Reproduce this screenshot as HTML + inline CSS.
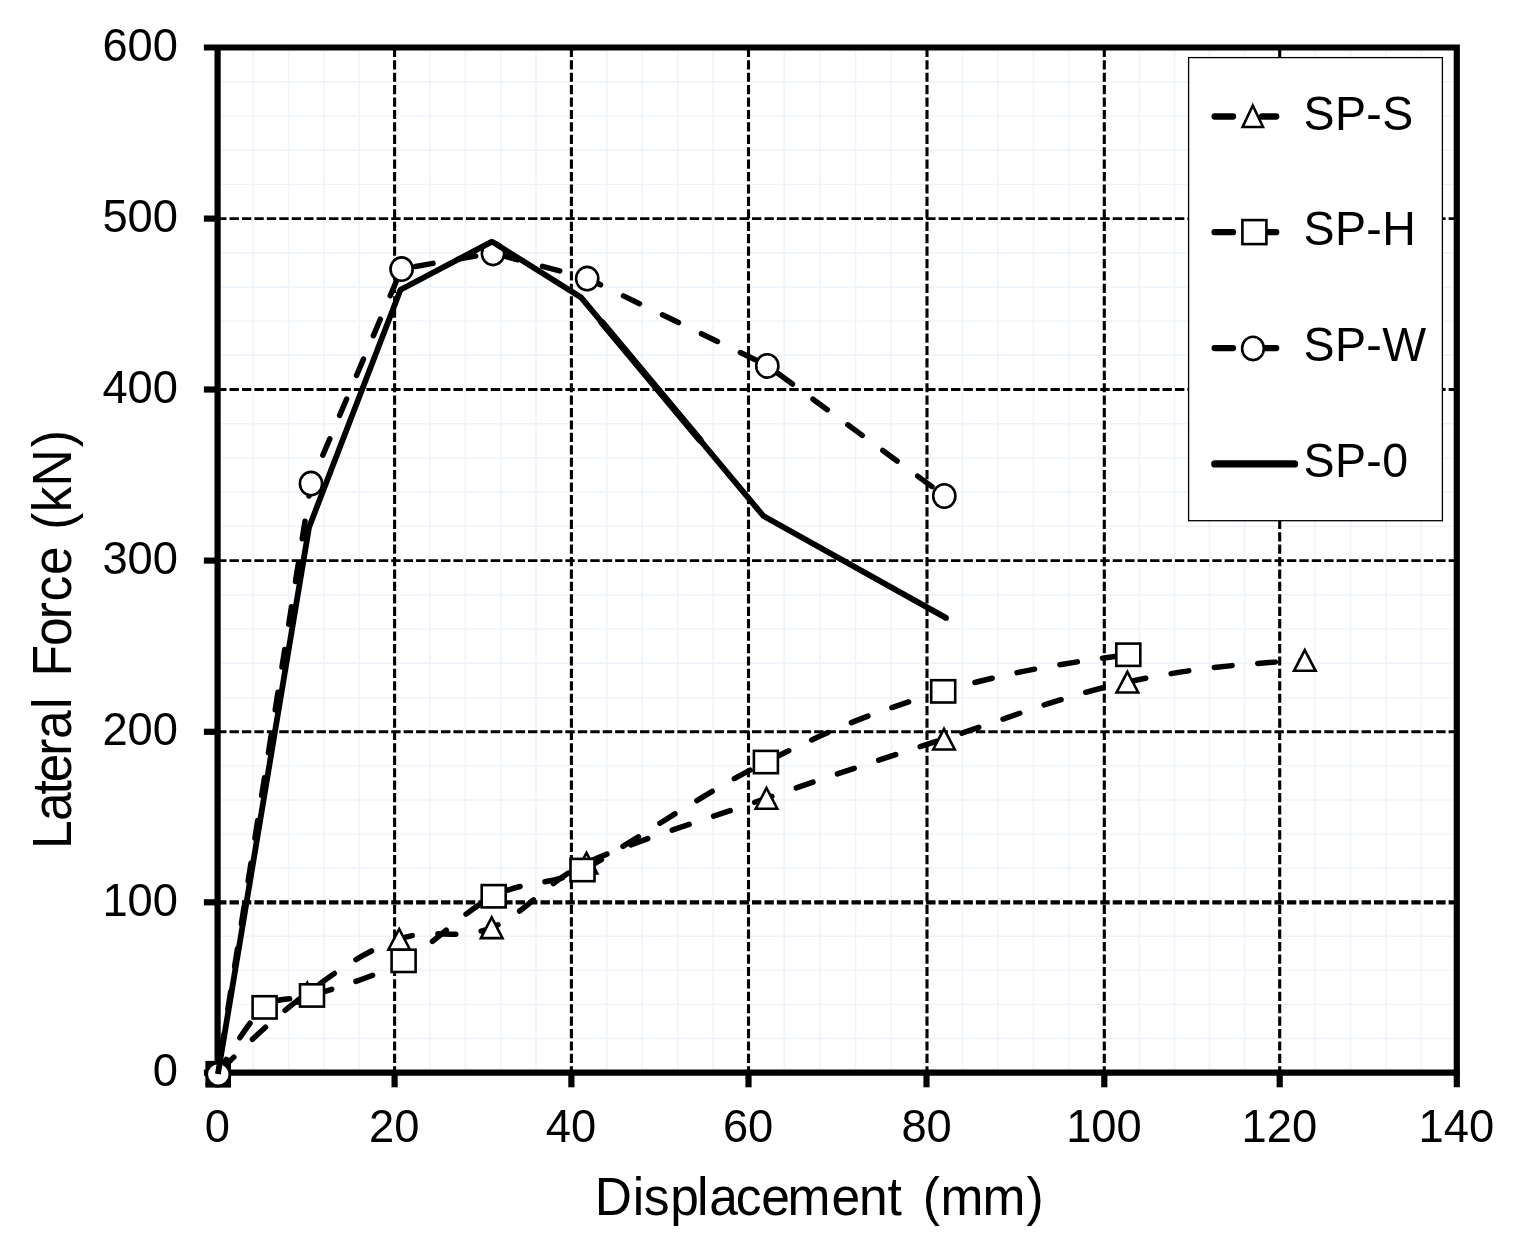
<!DOCTYPE html>
<html lang="en">
<head>
<meta charset="utf-8">
<title>Lateral Force vs Displacement</title>
<style>
html,body{margin:0;padding:0;background:#fff;}
body{width:1513px;height:1248px;overflow:hidden;}
svg{display:block;}
text{font-family:"Liberation Sans",sans-serif;fill:#000;}
</style>
</head>
<body>
<svg width="1513" height="1248" viewBox="0 0 1513 1248">
<rect width="1513" height="1248" fill="#ffffff"/>
<g stroke="#edf3f9" stroke-width="1.4" fill="none">
<line x1="253.2" y1="47.5" x2="253.2" y2="1072.6"/>
<line x1="288.5" y1="47.5" x2="288.5" y2="1072.6"/>
<line x1="323.9" y1="47.5" x2="323.9" y2="1072.6"/>
<line x1="359.2" y1="47.5" x2="359.2" y2="1072.6"/>
<line x1="430.0" y1="47.5" x2="430.0" y2="1072.6"/>
<line x1="465.3" y1="47.5" x2="465.3" y2="1072.6"/>
<line x1="500.7" y1="47.5" x2="500.7" y2="1072.6"/>
<line x1="536.0" y1="47.5" x2="536.0" y2="1072.6"/>
<line x1="606.8" y1="47.5" x2="606.8" y2="1072.6"/>
<line x1="642.2" y1="47.5" x2="642.2" y2="1072.6"/>
<line x1="677.7" y1="47.5" x2="677.7" y2="1072.6"/>
<line x1="713.1" y1="47.5" x2="713.1" y2="1072.6"/>
<line x1="784.2" y1="47.5" x2="784.2" y2="1072.6"/>
<line x1="819.9" y1="47.5" x2="819.9" y2="1072.6"/>
<line x1="855.6" y1="47.5" x2="855.6" y2="1072.6"/>
<line x1="891.3" y1="47.5" x2="891.3" y2="1072.6"/>
<line x1="962.5" y1="47.5" x2="962.5" y2="1072.6"/>
<line x1="997.9" y1="47.5" x2="997.9" y2="1072.6"/>
<line x1="1033.4" y1="47.5" x2="1033.4" y2="1072.6"/>
<line x1="1068.8" y1="47.5" x2="1068.8" y2="1072.6"/>
<line x1="1139.4" y1="47.5" x2="1139.4" y2="1072.6"/>
<line x1="1174.5" y1="47.5" x2="1174.5" y2="1072.6"/>
<line x1="1209.5" y1="47.5" x2="1209.5" y2="1072.6"/>
<line x1="1244.6" y1="47.5" x2="1244.6" y2="1072.6"/>
<line x1="1315.1" y1="47.5" x2="1315.1" y2="1072.6"/>
<line x1="1350.5" y1="47.5" x2="1350.5" y2="1072.6"/>
<line x1="1385.9" y1="47.5" x2="1385.9" y2="1072.6"/>
<line x1="1421.3" y1="47.5" x2="1421.3" y2="1072.6"/>
<line x1="217.6" y1="1038.5" x2="1456.8" y2="1038.5"/>
<line x1="217.6" y1="1004.4" x2="1456.8" y2="1004.4"/>
<line x1="217.6" y1="970.4" x2="1456.8" y2="970.4"/>
<line x1="217.6" y1="936.3" x2="1456.8" y2="936.3"/>
<line x1="217.6" y1="868.2" x2="1456.8" y2="868.2"/>
<line x1="217.6" y1="834.1" x2="1456.8" y2="834.1"/>
<line x1="217.6" y1="800.0" x2="1456.8" y2="800.0"/>
<line x1="217.6" y1="765.9" x2="1456.8" y2="765.9"/>
<line x1="217.6" y1="697.6" x2="1456.8" y2="697.6"/>
<line x1="217.6" y1="663.3" x2="1456.8" y2="663.3"/>
<line x1="217.6" y1="629.1" x2="1456.8" y2="629.1"/>
<line x1="217.6" y1="594.8" x2="1456.8" y2="594.8"/>
<line x1="217.6" y1="526.4" x2="1456.8" y2="526.4"/>
<line x1="217.6" y1="492.2" x2="1456.8" y2="492.2"/>
<line x1="217.6" y1="457.9" x2="1456.8" y2="457.9"/>
<line x1="217.6" y1="423.7" x2="1456.8" y2="423.7"/>
<line x1="217.6" y1="355.3" x2="1456.8" y2="355.3"/>
<line x1="217.6" y1="321.1" x2="1456.8" y2="321.1"/>
<line x1="217.6" y1="287.0" x2="1456.8" y2="287.0"/>
<line x1="217.6" y1="252.8" x2="1456.8" y2="252.8"/>
<line x1="217.6" y1="184.4" x2="1456.8" y2="184.4"/>
<line x1="217.6" y1="150.2" x2="1456.8" y2="150.2"/>
<line x1="217.6" y1="115.9" x2="1456.8" y2="115.9"/>
<line x1="217.6" y1="81.7" x2="1456.8" y2="81.7"/>
</g>
<g stroke="#000" fill="none">
<line x1="394.6" y1="47.8" x2="394.6" y2="1072.6" stroke-width="3.1" stroke-dasharray="9.2 3.22"/>
<line x1="571.4" y1="47.8" x2="571.4" y2="1072.6" stroke-width="3.1" stroke-dasharray="9.2 3.22"/>
<line x1="748.5" y1="47.8" x2="748.5" y2="1072.6" stroke-width="3.1" stroke-dasharray="9.2 3.22"/>
<line x1="927.0" y1="47.8" x2="927.0" y2="1072.6" stroke-width="3.1" stroke-dasharray="9.2 3.22"/>
<line x1="1104.3" y1="47.8" x2="1104.3" y2="1072.6" stroke-width="3.1" stroke-dasharray="9.2 3.22"/>
<line x1="1279.7" y1="47.8" x2="1279.7" y2="1072.6" stroke-width="3.1" stroke-dasharray="9.2 3.22"/>
<line x1="217.06" y1="902.3" x2="1456.8" y2="902.3" stroke-width="4.3" stroke-dasharray="9.4 3.04"/>
<line x1="217.06" y1="731.8" x2="1456.8" y2="731.8" stroke-width="2.9" stroke-dasharray="9.4 3.04"/>
<line x1="217.06" y1="560.6" x2="1456.8" y2="560.6" stroke-width="2.9" stroke-dasharray="9.4 3.04"/>
<line x1="217.06" y1="389.5" x2="1456.8" y2="389.5" stroke-width="2.9" stroke-dasharray="9.4 3.04"/>
<line x1="217.06" y1="218.6" x2="1456.8" y2="218.6" stroke-width="2.9" stroke-dasharray="9.4 3.04"/>
</g>
<g stroke="#000" stroke-width="6.2" fill="none">
<path d="M203.9 47.5 H1456.8 V1087.3"/>
<path d="M217.6 47.5 V1087.3"/>
<path d="M203.9 1072.6 H1459.8999999999999"/>
<line x1="394.6" y1="1072.6" x2="394.6" y2="1087.3"/>
<line x1="571.4" y1="1072.6" x2="571.4" y2="1087.3"/>
<line x1="748.5" y1="1072.6" x2="748.5" y2="1087.3"/>
<line x1="926.5" y1="1072.6" x2="926.5" y2="1087.3"/>
<line x1="1104.3" y1="1072.6" x2="1104.3" y2="1087.3"/>
<line x1="1279.7" y1="1072.6" x2="1279.7" y2="1087.3"/>
<line x1="203.9" y1="902.3" x2="217.6" y2="902.3"/>
<line x1="203.9" y1="731.8" x2="217.6" y2="731.8"/>
<line x1="203.9" y1="560.6" x2="217.6" y2="560.6"/>
<line x1="203.9" y1="389.5" x2="217.6" y2="389.5"/>
<line x1="203.9" y1="218.6" x2="217.6" y2="218.6"/>
</g>
<path d="M217.8 1073.0 C245.4 1045.6 273.0 1018.3 307.3 993.0 C341.6 967.7 364.1 951.7 399.2 939.2 C434.3 926.7 457.2 941.7 491.7 927.6 C526.2 913.5 545.0 882.5 586.5 863.0 C628.0 843.5 695.8 822.7 766.5 798.2 C837.2 773.7 872.8 761.9 944.0 739.0 C1015.2 716.1 1057.6 697.2 1127.4 682.0 C1197.2 666.8 1251.0 663.5 1304.8 660.3" stroke="#000" stroke-width="5.5" stroke-linecap="round" stroke-linejoin="round" stroke-dasharray="17.8 25.8" stroke-dashoffset="-4.8" fill="none"/>
<g fill="#fff" stroke="#000" stroke-width="2.6" stroke-linejoin="miter">
<polygon points="217.8,1062.8 228.6,1083.5 207.0,1083.5"/>
<polygon points="307.3,982.8 318.1,1003.5 296.5,1003.5"/>
<polygon points="399.2,929.0 410.0,949.7 388.4,949.7"/>
<polygon points="491.7,917.4 502.5,938.1 480.9,938.1"/>
<polygon points="586.5,852.8 597.3,873.5 575.7,873.5"/>
<polygon points="766.5,788.0 777.3,808.7 755.7,808.7"/>
<polygon points="944.0,728.8 954.8,749.5 933.2,749.5"/>
<polygon points="1127.4,671.8 1138.2,692.5 1116.6,692.5"/>
<polygon points="1304.8,650.1 1315.6,670.8 1294.0,670.8"/>
</g>
<path d="M217.8 1073.9 C233.7 1046.9 249.6 1019.8 264.6 1007.3" stroke="#000" stroke-width="5.5" stroke-linecap="round" stroke-linejoin="round" stroke-dasharray="17.8 25.5" stroke-dashoffset="1.1" fill="none"/>
<path d="M264.6 1007.3 C279.6 994.8 293.5 1001.6 312.0 995.4 C330.5 989.2 369.2 979.6 403.6 960.8 C438.0 942.0 460.7 913.0 493.7 896.2 C526.7 879.4 549.3 886.4 582.5 870.0 C615.7 853.6 697.5 795.9 765.9 762.0 C834.3 728.1 870.8 712.7 943.2 691.3 C1015.6 669.9 1071.9 662.3 1128.3 654.7" stroke="#000" stroke-width="5.5" stroke-linecap="round" stroke-linejoin="round" stroke-dasharray="17.8 25.5" stroke-dashoffset="-9.28" fill="none"/>
<g fill="#fff" stroke="#000" stroke-width="2.6">
<rect x="207.6" y="1063.1" width="21.2" height="22.3" stroke-width="4.4"/>
<rect x="252.6" y="996.2" width="24.0" height="22.3"/>
<rect x="300.0" y="984.3" width="24.0" height="22.3"/>
<rect x="391.6" y="949.7" width="24.0" height="22.3"/>
<rect x="481.7" y="885.1" width="24.0" height="22.3"/>
<rect x="570.5" y="858.9" width="24.0" height="22.3"/>
<rect x="753.9" y="750.9" width="24.0" height="22.3"/>
<rect x="931.2" y="680.2" width="24.0" height="22.3"/>
<rect x="1116.3" y="643.6" width="24.0" height="22.3"/>
</g>
<polyline points="217.8,1073.0 311.0,483.3 401.6,268.8 493.0,253.1 587.2,278.3 767.3,365.6 944.3,495.7" stroke="#000" stroke-width="5.5" stroke-linecap="round" stroke-linejoin="round" stroke-dasharray="17.8 25.5" stroke-dashoffset="22.05" fill="none"/>
<g fill="#fff" stroke="#000" stroke-width="2.6">
<circle cx="218.3" cy="1074.4" r="11.6" stroke-width="2.8"/>
<ellipse cx="311.0" cy="483.6" rx="11.1" ry="11.7"/>
<ellipse cx="401.6" cy="269.1" rx="11.1" ry="11.7"/>
<ellipse cx="493.0" cy="253.4" rx="11.1" ry="11.7"/>
<ellipse cx="587.2" cy="278.6" rx="11.1" ry="11.7"/>
<ellipse cx="767.3" cy="365.9" rx="11.1" ry="11.7"/>
<ellipse cx="944.3" cy="496.0" rx="11.1" ry="11.7"/>
</g>
<polyline points="217.9,1073.9 309.0,527.5 400.5,289.7 492.0,241.6 580.8,297.2 763.4,516.0 946.0,617.9" stroke="#000" stroke-width="5.8" stroke-linecap="butt" stroke-linejoin="round" fill="none"/>
<line x1="602" y1="322.6" x2="700" y2="440.0" stroke="#000" stroke-width="7.0" stroke-linecap="round"/>
<circle cx="946.0" cy="617.9" r="2.9" fill="#000"/>
<rect x="1188.6" y="57.6" width="253.8" height="463.1" fill="#fff" stroke="#000" stroke-width="1.3"/>
<path d="M1214.6 116.5 H1233 M1262 116.5 H1276.2" stroke="#000" stroke-width="6.3" stroke-linecap="round" fill="none"/>
<polygon points="1252.8,105.5 1263,127 1242.6,127" fill="#fff" stroke="#000" stroke-width="2.6"/>
<path d="M1214.6 232.2 H1233 M1262 232.2 H1276.2" stroke="#000" stroke-width="6.3" stroke-linecap="round" fill="none"/>
<rect x="1242.4" y="220.1" width="24" height="24" fill="#fff" stroke="#000" stroke-width="2.6"/>
<path d="M1214.6 348.1 H1233 M1262 348.1 H1276.2" stroke="#000" stroke-width="6.3" stroke-linecap="round" fill="none"/>
<ellipse cx="1253.0" cy="348.4" rx="10.9" ry="11.7" fill="#fff" stroke="#000" stroke-width="2.6"/>
<path d="M1214.8 463.9 H1294.5" stroke="#000" stroke-width="7.4" stroke-linecap="round" fill="none"/>
<g font-size="46.5px">
<text transform="translate(1303.5 129.5) scale(1 1.04)" letter-spacing="0.4">SP-S</text>
<text transform="translate(1303.5 245.4) scale(1 1.04)" letter-spacing="0.4">SP-H</text>
<text transform="translate(1303.5 360.8) scale(1 1.04)" letter-spacing="0.4">SP-W</text>
<text transform="translate(1303.5 476.8) scale(1 1.04)" letter-spacing="0.4">SP-0</text>
</g>
<g font-size="45.3px">
<text transform="translate(217.4 1141.6) scale(1 1.03)" text-anchor="middle">0</text>
<text transform="translate(394.2 1141.6) scale(1 1.03)" text-anchor="middle">20</text>
<text transform="translate(571.0 1141.6) scale(1 1.03)" text-anchor="middle">40</text>
<text transform="translate(748.1 1141.6) scale(1 1.03)" text-anchor="middle">60</text>
<text transform="translate(926.6 1141.6) scale(1 1.03)" text-anchor="middle">80</text>
<text transform="translate(1103.9 1141.6) scale(1 1.03)" text-anchor="middle">100</text>
<text transform="translate(1279.3 1141.6) scale(1 1.03)" text-anchor="middle">120</text>
<text transform="translate(1456.3 1141.6) scale(1 1.03)" text-anchor="middle">140</text>
<text transform="translate(178 1085.9) scale(1 1.03)" text-anchor="end">0</text>
<text transform="translate(178 915.7) scale(1 1.03)" text-anchor="end">100</text>
<text transform="translate(178 745.2) scale(1 1.03)" text-anchor="end">200</text>
<text transform="translate(178 574.0) scale(1 1.03)" text-anchor="end">300</text>
<text transform="translate(178 402.9) scale(1 1.03)" text-anchor="end">400</text>
<text transform="translate(178 232.0) scale(1 1.03)" text-anchor="end">500</text>
<text transform="translate(178 60.9) scale(1 1.03)" text-anchor="end">600</text>
</g>
<text transform="translate(0 1214.7) scale(1 1.04)" x="594.7 632.7 643.8 670.2 697.1 709.2 735.7 761.3 787.5 831.4 859.1 887.5 901.8 922.8 940.4 982.5 1026.5" y="0" font-size="51.5px">Displacement (mm)</text>
<text transform="translate(70.8 900) rotate(-90) scale(1 1.065)" x="51.1 78.9 105.5 117.7 144.3 160.9 190.9 202.3 223.4 254.1 280.7 298.5 324.9 353.6 370.2 387.8 413.5 452.8" y="0" font-size="51.5px">Lateral Force (kN)</text>
</svg>
</body>
</html>
